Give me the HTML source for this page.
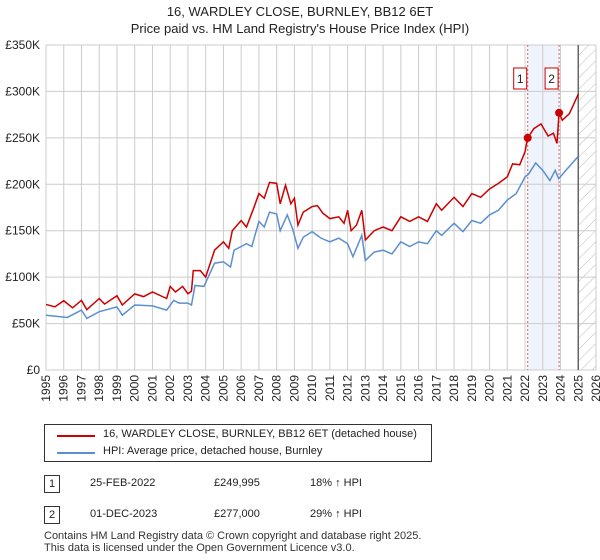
<!DOCTYPE html>
<html><head><meta charset="utf-8"><style>
body{margin:0;background:#fff;font-family:"Liberation Sans","DejaVu Sans",sans-serif;}
#wrap{position:relative;width:600px;height:560px;overflow:hidden}
.t{position:absolute;font-size:12px;color:#222}
</style></head><body><div id="wrap">
<div class="t" style="left:0;width:600px;text-align:center;top:3px;font-size:13px;line-height:17px">16, WARDLEY CLOSE, BURNLEY, BB12 6ET<br>Price paid vs. HM Land Registry's House Price Index (HPI)</div>
<svg id="ch" width="600" height="420" style="position:absolute;left:0;top:0"></svg>
<div style="position:absolute;left:44px;top:424px;width:388px;height:38px;border:1px solid #333;box-sizing:border-box">
<div style="position:absolute;left:12px;top:10px;width:38px;height:2px;background:#cc0000"></div>
<div class="t" style="left:58px;top:3px;font-size:11px">16, WARDLEY CLOSE, BURNLEY, BB12 6ET (detached house)</div>
<div style="position:absolute;left:12px;top:27px;width:38px;height:2px;background:#5b8fd0"></div>
<div class="t" style="left:58px;top:20px;font-size:11px">HPI: Average price, detached house, Burnley</div>
</div>
<div>
<div class="t" style="left:44px;top:475px;width:14px;height:16px;border:1px solid #333;text-align:center;font-size:11px;line-height:16px">1</div>
<div class="t" style="left:90px;top:477px;font-size:11px">25-FEB-2022</div>
<div class="t" style="left:214px;top:477px;font-size:11px">£249,995</div>
<div class="t" style="left:310px;top:477px;font-size:11px">18% ↑ HPI</div></div>
<div>
<div class="t" style="left:44px;top:506px;width:14px;height:16px;border:1px solid #333;text-align:center;font-size:11px;line-height:16px">2</div>
<div class="t" style="left:90px;top:508px;font-size:11px">01-DEC-2023</div>
<div class="t" style="left:214px;top:508px;font-size:11px">£277,000</div>
<div class="t" style="left:310px;top:508px;font-size:11px">29% ↑ HPI</div></div>
<div class="t" style="left:44px;top:530px;font-size:11px;line-height:12px;color:#333">Contains HM Land Registry data © Crown copyright and database right 2025.<br>This data is licensed under the Open Government Licence v3.0.</div>
</div>
<script>
const redX=[1995,1995.5,1996,1996.5,1997,1997.3,1998,1998.3,1999,1999.3,2000,2000.5,2001,2001.8,2002,2002.3,2002.7,2003,2003.2,2003.3,2003.7,2004,2004.5,2005,2005.3,2005.5,2006,2006.3,2006.7,2007,2007.3,2007.6,2008,2008.2,2008.5,2008.8,2009,2009.2,2009.5,2010,2010.3,2010.6,2011,2011.5,2011.8,2012,2012.2,2012.5,2012.8,2013,2013.5,2014,2014.5,2015,2015.5,2016,2016.5,2017,2017.3,2018,2018.5,2019,2019.5,2020,2020.5,2021,2021.3,2021.7,2022,2022.15,2022.5,2022.9,2023.3,2023.6,2023.8,2023.92,2024.1,2024.5,2025];
const redV=[70.6,68,74.6,67,75,65,77,71,80,70,82,79,84,77,90,84,90,82,85,107,107,100,129,138,131,150,161,154,174,190,185,202,201,179,199,179,185,156,170,176,177,169,163,165,158,172,150,156,172,140,150,154,150,165,160,165,160,179,172,186,176,190,186,195,201,208,222,221,235,250,260,265,252,255,244,277,269,276,297];
const hpiX=[1995,1996.2,1997,1997.3,1998,1999,1999.3,2000,2001,2001.8,2002.2,2002.5,2003,2003.2,2003.4,2003.9,2004.5,2005,2005.4,2005.6,2006.3,2006.6,2007,2007.3,2007.6,2008,2008.2,2008.6,2008.9,2009.2,2009.5,2010,2010.5,2011,2011.5,2012,2012.3,2012.8,2013,2013.5,2014,2014.5,2015,2015.5,2016,2016.5,2017,2017.3,2018,2018.5,2019,2019.5,2020,2020.5,2021,2021.5,2022,2022.2,2022.6,2023,2023.4,2023.7,2023.9,2024.3,2025];
const hpiV=[59,56.6,64.5,55.6,62.8,68,59,70,69,64.5,75,72,72,70,91,90,115,116.5,111,129,136,133,160,154,170,168,150,167,152,131,143,149,142,138,142,136,122,145,118,127,129,125,138,133,138,136,150,145,158,149,161,158,167,172,183,190,208,211,223,215,204,215,206,215,230];
const yTicks=[0,50,100,150,200,250,300,350];
const xTicks=[1995,1996,1997,1998,1999,2000,2001,2002,2003,2004,2005,2006,2007,2008,2009,2010,2011,2012,2013,2014,2015,2016,2017,2018,2019,2020,2021,2022,2023,2024,2025,2026];
const saleX=[2022.15,2023.92];const saleV=[249.995,277];const saleLbl=["1","2"];
const X0=46,X1=596,Y0=370,Y1=45;
const sx=v=>X0+(v-1995)/(2026-1995)*(X1-X0);
const sy=v=>Y0-v/350*(Y0-Y1);
const svg=document.getElementById('ch');const NS='http://www.w3.org/2000/svg';
function mk(t,a){const e=document.createElementNS(NS,t);for(const k in a)e.setAttribute(k,a[k]);svg.appendChild(e);return e;}
let e=mk('rect',{x:sx(saleX[0]),y:Y1,width:sx(saleX[1])-sx(saleX[0]),height:Y0-Y1,fill:'#eef3fc'});


const defs=mk('defs',{});defs.innerHTML='<pattern id="h" width="8" height="8" patternUnits="userSpaceOnUse" patternTransform="rotate(45)"><line x1="0" y1="0" x2="0" y2="8" stroke="#bbb" stroke-width="1"/></pattern>';
e=mk('rect',{x:sx(2025),y:Y1,width:X1-sx(2025),height:Y0-Y1,fill:'url(#h)'});


xTicks.forEach(t=>{const x=sx(t);
e=mk('line',{x1:x,x2:x,y1:Y1,y2:Y0,stroke:'#ccc'});


e=mk('text',{x:0,y:0,'font-size':12,fill:'#222','text-anchor':'end',transform:`translate(${x+4},${Y0+5}) rotate(-90)`});e.textContent=t;

});
yTicks.forEach(t=>{const y=sy(t);
e=mk('line',{x1:X0,x2:X1,y1:y,y2:y,stroke:'#ccc'});


e=mk('text',{x:X0-6,y:y+4,'font-size':12,fill:'#222','text-anchor':'end'});e.textContent=t?'£'+t+'K':'£0';

});
e=mk('line',{x1:sx(2025),x2:sx(2025),y1:Y1,y2:Y0,stroke:'#666','stroke-width':1.5});


saleX.forEach((s,i)=>{
e=mk('line',{x1:sx(s),x2:sx(s),y1:Y1,y2:Y0,stroke:'#e06060','stroke-dasharray':'2,2'});

});
function line(xs,vs,c,n){e=mk('polyline',{points:xs.map((x,i)=>sx(x)+','+sy(vs[i])).join(' '),fill:'none',stroke:c,'stroke-width':1.5});

}
line(hpiX,hpiV,'#5b8fd0','hpi-line');
line(redX,redV,'#cc0000','property-price-line');
saleX.forEach((s,i)=>{
e=mk('circle',{cx:sx(s),cy:sy(saleV[i]),r:4,fill:'#cc0000'});


e=mk('rect',{x:sx(s)-14,y:68,width:13,height:21,fill:'#fff',stroke:'#cc0000'});


e=mk('text',{x:sx(s)-7.5,y:83,'font-size':12,'text-anchor':'middle',fill:'#222'});e.textContent=saleLbl[i];

});
</script></body></html>
